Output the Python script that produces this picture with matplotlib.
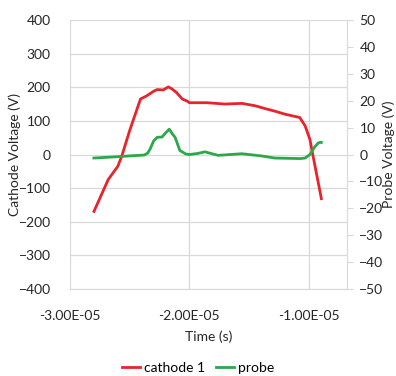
import numpy as np
import matplotlib
matplotlib.use("Agg")
import matplotlib.pyplot as plt
from matplotlib.ticker import FuncFormatter

plt.rcParams['font.family'] = ['Lato', 'DejaVu Sans']

# cathode 1 trace (time in 1e-5 s, volts)
cathode_t = [-2.80, -2.68, -2.60, -2.567, -2.50, -2.41, -2.36, -2.30, -2.27, -2.22,
             -2.177, -2.15, -2.107, -2.06, -2.02, -2.00, -1.85, -1.70, -1.56, -1.45,
             -1.35, -1.285, -1.20, -1.075, -1.03, -0.99, -0.966, -0.894]
cathode_v = [-169, -74, -35, -5, 72, 165, 174, 188, 193, 192,
             201, 196, 184, 165, 159, 154, 154, 150, 152, 145,
             135, 129, 120, 110, 85, 45, 0, -131]

# probe trace (time in 1e-5 s, volts)
probe_t = [-2.80, -2.60, -2.50, -2.38, -2.35, -2.33, -2.30, -2.27, -2.23, -2.20,
           -2.169, -2.14, -2.12, -2.08, -2.03, -2.00, -1.93, -1.87, -1.76, -1.56,
           -1.40, -1.285, -1.07, -1.03, -0.99, -0.95, -0.92, -0.90, -0.894]
probe_v = [-1.3, -0.8, -0.5, -0.2, 0.5, 2.0, 5.0, 6.4, 6.5, 8.0,
           9.4, 7.5, 6.4, 1.5, 0.2, 0.0, 0.4, 1.0, -0.3, 0.3,
           -0.5, -1.3, -1.5, -1.3, 0.0, 2.8, 4.3, 4.6, 4.5]

x_ticks = [-3e-5, -2e-5, -1e-5]

red = '#e8232b'
green = '#2aa84a'
grid = '#d9d9d9'
txt = '#262626'

fig = plt.figure(figsize=(3.96, 3.76), dpi=100)
ax = fig.add_axes([0.177, 0.231, 0.699, 0.716])
ax2 = ax.twinx()

ct = np.array(cathode_t) * 1e-5
pt = np.array(probe_t) * 1e-5
l1, = ax.plot(ct, cathode_v, color=red, lw=2.0, label='cathode 1')
l2, = ax2.plot(pt, probe_v, color=green, lw=2.0, label='probe')

ax.set_xlim(-3e-5, -0.68e-5)
ax.set_ylim(-400, 400)
ax2.set_ylim(-50, 50)
ax.set_yticks(range(-400, 401, 100))
ax2.set_yticks(range(-50, 51, 10))
ax.set_xticks(x_ticks)
ax.xaxis.set_major_formatter(FuncFormatter(lambda v, p: '%.2E' % v))

ax.grid(True, color=grid, lw=0.9)
ax.set_axisbelow(True)
for s in ['top', 'right', 'left']:
    ax.spines[s].set_visible(False)
for s in ['top', 'left', 'bottom']:
    ax2.spines[s].set_visible(False)
ax.spines['bottom'].set_color(grid)
ax2.spines['right'].set_color(grid)

ax.tick_params(axis='y', length=0, pad=14, labelsize=10, colors=txt)
ax.tick_params(axis='x', length=0, pad=15, labelsize=10, colors=txt)
ax2.tick_params(axis='y', length=4, color=grid, pad=5, labelsize=10, labelcolor=txt)

ax.set_xlabel('Time (s)', fontsize=10, color=txt, labelpad=6)
fig.text(15 / 396, 0.589, 'Cathode Voltage (V)', rotation=90, ha='center', va='center',
         fontsize=10, color=txt)
fig.text(389 / 396, 0.589, 'Probe Voltage (V)', rotation=90, ha='center', va='center',
         fontsize=10, color=txt)

fig.legend(handles=[l1, l2], loc='center', bbox_to_anchor=(0.5, 0.022),
           ncol=2, frameon=False, fontsize=10, handlelength=1.3,
           handletextpad=0.3, columnspacing=0.8)

fig.savefig('out.png', dpi=100)
